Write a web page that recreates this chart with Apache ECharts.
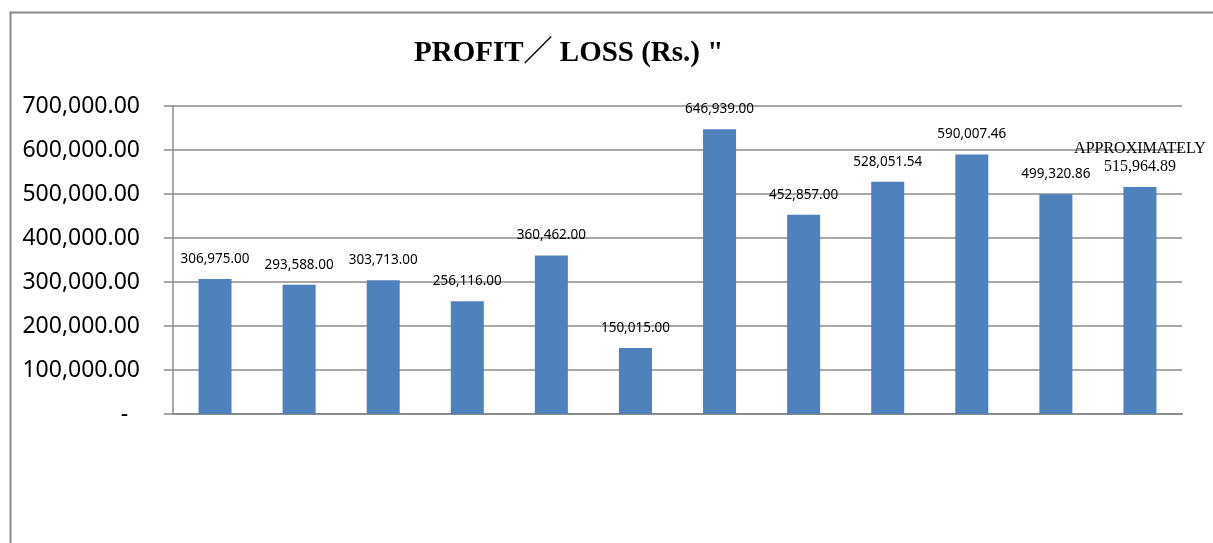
<!DOCTYPE html>
<html>
<head>
<meta charset="utf-8">
<script src="https://cdn.jsdelivr.net/npm/echarts@6/dist/echarts.min.js"></script>
<style>
  html, body { margin: 0; padding: 0; background: #fff; }
  #profitLoss { width: 1213px; height: 543px; }
</style>
</head>
<body>
<div id="profitLoss"></div>
<script>
// one bar per period, no category names shown in the original
const categories = ['1', '2', '3', '4', '5', '6', '7', '8', '9', '10', '11', '12']
const profitValues = [306975.00, 293588.00, 303713.00, 256116.00, 360462.00, 150015.00,
  646939.00, 452857.00, 528051.54, 590007.46, 499320.86, 515964.89]
const yTicks = [0, 100000, 200000, 300000, 400000, 500000, 600000, 700000]
const lastNote = 'APPROXIMATELY'

const fmt = (v) => v.toLocaleString('en-US', { minimumFractionDigits: 2, maximumFractionDigits: 2 })

const chart = echarts.init(document.getElementById('profitLoss'))

const barData = profitValues.map((v, i) => {
  if (i !== profitValues.length - 1) return v
  return {
    value: v,
    label: {
      formatter: lastNote + '\n' + fmt(v),
      fontFamily: '"Liberation Serif", "Times New Roman", serif',
      fontSize: 16,
      lineHeight: 18,
      distance: 11
    }
  }
})

chart.setOption({
  backgroundColor: '#fff',
  animation: false,
  title: {
    text: 'PROFIT／ LOSS (Rs.) "',
    left: 409,
    top: 34,
    textStyle: {
      fontFamily: '"Liberation Serif", "Times New Roman", "Noto Sans CJK SC", serif',
      fontWeight: 'bold',
      fontSize: 29,
      color: '#000'
    }
  },
  graphic: [
    {
      type: 'polyline',
      silent: true,
      shape: { points: [[10.5, 560], [10.5, 12.5], [1220, 12.5]] },
      style: { stroke: '#898989', lineWidth: 2, fill: null }
    }
  ],
  grid: { left: 173, right: 31, top: 106, bottom: 129, containLabel: false },
  xAxis: {
    type: 'category',
    data: categories,
    axisLine: { lineStyle: { color: '#8c8c8c', width: 2 } },
    axisTick: { show: false },
    axisLabel: { show: false },
    splitLine: { show: false }
  },
  yAxis: {
    type: 'value',
    min: yTicks[0],
    max: yTicks[yTicks.length - 1],
    interval: 100000,
    axisLine: { show: true, lineStyle: { color: '#8c8c8c', width: 1.5 } },
    axisTick: { show: true, length: 9, lineStyle: { color: '#8c8c8c', width: 1.5 } },
    splitLine: { show: true, lineStyle: { color: '#8c8c8c', width: 1.5 } },
    axisLabel: {
      margin: 33,
      fontFamily: '"Noto Sans", "DejaVu Sans", sans-serif',
      fontSize: 23,
      color: '#000',
      formatter: (v) => (v === 0 ? '-  ' : fmt(v))
    }
  },
  series: [
    {
      type: 'bar',
      data: barData,
      barWidth: 33,
      itemStyle: { color: '#4f81bd' },
      label: {
        show: true,
        position: 'top',
        distance: 13,
        fontFamily: '"Noto Sans", "DejaVu Sans", sans-serif',
        fontSize: 13.5,
        color: '#000',
        formatter: (p) => fmt(p.value)
      }
    }
  ]
})
</script>
</body>
</html>
